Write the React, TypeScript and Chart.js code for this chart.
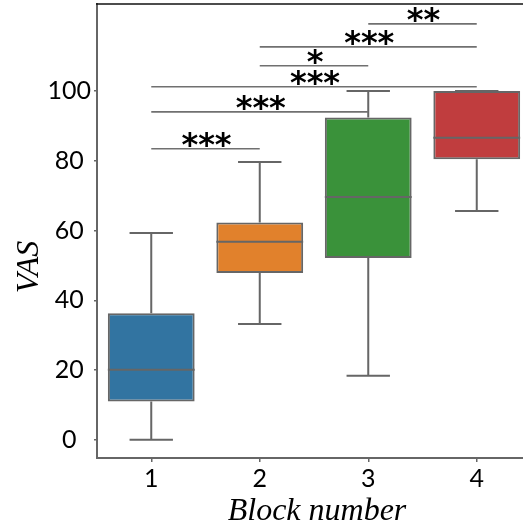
import React, { useEffect, useRef } from "react";
import { Chart, registerables } from "chart.js";

Chart.register(...registerables);

const categories = ["1", "2", "3", "4"];
const whiskerLow = [0, 33.2, 18.4, 65.6];
const q1 = [11.0, 47.8, 52.1, 80.4];
const median = [20.1, 56.8, 69.6, 86.6];
const q3 = [36.3, 62.3, 92.4, 100];
const whiskerHigh = [59.3, 79.6, 100, 100];
const boxColors = ["#3274a1", "#e1812c", "#3a923a", "#c03d3e"];
const yTicks = [0, 20, 40, 60, 80, 100];

const sigFrom = [0, 0, 0, 1, 1, 2];
const sigTo = [1, 2, 3, 2, 3, 3];
const sigLevel = [83.4, 94.0, 101.2, 107.2, 112.6, 119.2];
const sigLabel = ["***", "***", "***", "*", "***", "**"];

const EDGE = "#666666";

const boxPlugin = {
  id: "boxExtras",
  afterDatasetsDraw(chart: any) {
    const { ctx, scales } = chart;
    const x = scales.x;
    const y = scales.y;
    const meta = chart.getDatasetMeta(0);
    ctx.save();
    ctx.strokeStyle = EDGE;
    ctx.lineWidth = 2;
    categories.forEach((_, i) => {
      const el = meta.data[i];
      const cx = x.getPixelForValue(i);
      const half = el.width / 2;
      const capHalf = el.width / 4;
      const yLo = y.getPixelForValue(whiskerLow[i]);
      const yQ1 = y.getPixelForValue(q1[i]);
      const yQ3 = y.getPixelForValue(q3[i]);
      const yHi = y.getPixelForValue(whiskerHigh[i]);
      const yMed = y.getPixelForValue(median[i]);
      ctx.beginPath();
      ctx.moveTo(cx, yQ1);
      ctx.lineTo(cx, yLo);
      ctx.moveTo(cx - capHalf, yLo);
      ctx.lineTo(cx + capHalf, yLo);
      ctx.moveTo(cx, yQ3);
      ctx.lineTo(cx, yHi);
      ctx.moveTo(cx - capHalf, yHi);
      ctx.lineTo(cx + capHalf, yHi);
      ctx.moveTo(cx - half, yMed);
      ctx.lineTo(cx + half, yMed);
      ctx.stroke();
    });
    ctx.strokeStyle = "#707070";
    ctx.lineWidth = 1.6;
    ctx.fillStyle = "#000";
    ctx.font = 'bold 32px "DejaVu Sans"';
    ctx.textAlign = "center";
    ctx.textBaseline = "alphabetic";
    sigLevel.forEach((lv, k) => {
      const x1 = x.getPixelForValue(sigFrom[k]);
      const x2 = x.getPixelForValue(sigTo[k]);
      const py = y.getPixelForValue(lv);
      ctx.beginPath();
      ctx.moveTo(x1, py);
      ctx.lineTo(x2, py);
      ctx.stroke();
      ctx.fillText(sigLabel[k], (x1 + x2) / 2 + 1, py + 6);
    });
    ctx.restore();
  },
  afterDraw(chart: any) {
    const { ctx, chartArea } = chart;
    ctx.save();
    ctx.strokeStyle = "#111";
    ctx.lineWidth = 1.6;
    ctx.beginPath();
    ctx.moveTo(chartArea.left - 1, chartArea.top);
    ctx.lineTo(chartArea.right, chartArea.top);
    ctx.stroke();
    ctx.fillStyle = "#000";
    ctx.font = 'italic 32px "Liberation Serif"';
    ctx.textAlign = "center";
    ctx.textBaseline = "alphabetic";
    ctx.fillText("Block number", 317, 520);
    ctx.translate(38, 267);
    ctx.rotate(-Math.PI / 2);
    ctx.fillText("VAS", 0, 0);
    ctx.restore();
  },
};

export default function App() {
  const ref = useRef<HTMLCanvasElement>(null);
  useEffect(() => {
    if (!ref.current) return;
    const chart = new Chart(ref.current, {
      type: "bar",
      data: {
        labels: categories,
        datasets: [
          {
            data: categories.map((_, i) => [q1[i], q3[i]]) as any,
            backgroundColor: boxColors,
            borderColor: EDGE,
            borderWidth: 2,
            borderSkipped: false,
            categoryPercentage: 0.8,
            barPercentage: 1,
          },
        ],
      },
      options: {
        animation: false,
        responsive: false,
        devicePixelRatio: 1,
        layout: { padding: { top: 4, left: 0, right: 0, bottom: 0 } },
        plugins: { legend: { display: false }, tooltip: { enabled: false } },
        scales: {
          x: {
            type: "category",
            offset: true,
            grid: {
              display: true,
              offset: false,
              drawOnChartArea: false,
              drawTicks: true,
              tickLength: 4,
              color: EDGE,
              lineWidth: 1.5,
            },
            border: { display: true, color: EDGE, width: 2 },
            ticks: {
              font: { family: "Lato", size: 25 },
              color: "#000",
              padding: 2,
            },
            afterFit: (s: any) => {
              s.height = 69;
              s.paddingLeft = 0;
              s.paddingRight = 0;
            },
          },
          y: {
            type: "linear",
            min: -5.2,
            max: 124.9,
            afterBuildTicks: (s: any) => {
              s.ticks = yTicks.map((v) => ({ value: v }));
            },
            grid: {
              display: true,
              drawOnChartArea: false,
              drawTicks: true,
              tickLength: 3,
              color: EDGE,
              lineWidth: 1.5,
            },
            border: { display: true, color: EDGE, width: 2 },
            ticks: {
              font: { family: "Lato", size: 25 },
              color: "#000",
              crossAlign: "center",
              padding: 3,
            },
            afterFit: (s: any) => {
              s.width = 97;
              s.paddingTop = 0;
              s.paddingBottom = 0;
            },
          },
        },
      },
      plugins: [boxPlugin],
    });
    return () => chart.destroy();
  }, []);
  return (
    <div
      style={{
        position: "fixed",
        left: 0,
        top: 0,
        width: 523,
        height: 527,
        overflow: "hidden",
        background: "#fff",
      }}
    >
      <canvas ref={ref} width={531} height={527} style={{ display: "block" }} />
    </div>
  );
}
